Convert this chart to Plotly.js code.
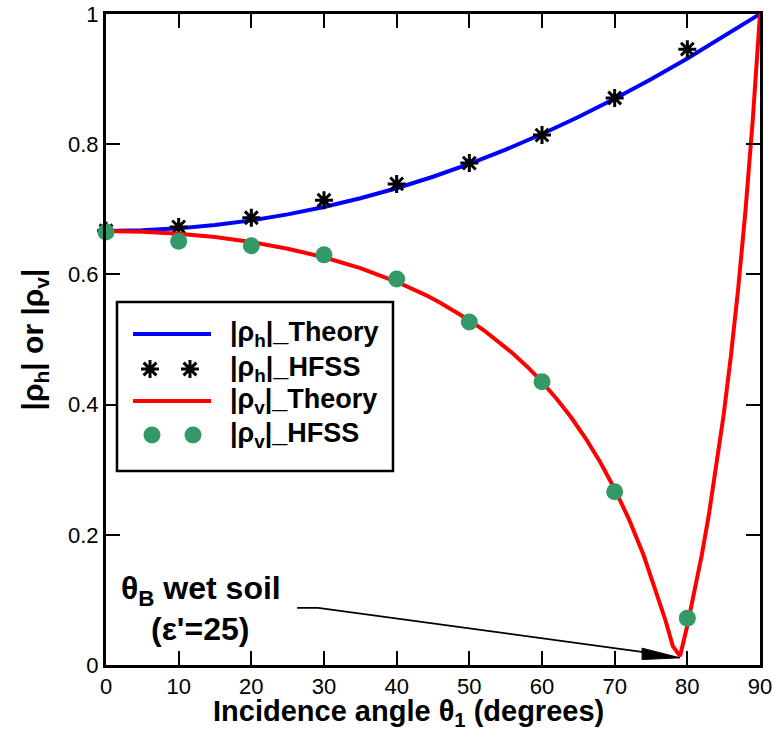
<!DOCTYPE html>
<html>
<head>
<meta charset="utf-8">
<script src="https://cdn.plot.ly/plotly-3.0.1.min.js"></script>
<style>html,body{margin:0;padding:0;background:#fff;}#chart{width:773px;height:747px;}</style>
</head>
<body>
<div id="chart"></div>
<script>
// Theory curves
const thetaH = [0,5,10,15,20,25,30,35,40,45,50,55,60,65,70,75,80,85,90];
const rhoHTheory = [0.6667,0.6677,0.6707,0.6758,0.6830,0.6922,0.7035,0.7169,0.7324,0.7500,0.7698,0.7917,0.8157,0.8417,0.8698,0.8998,0.9316,0.9650,1.0];
const thetaV = [0,5,10,15,20,25,30,35,40,42,44,46,48,50,52,54,56,58,60,62,64,66,68,70,72,74,76,77,78,79,80,81,82,83,84,85,86,87,88,89,90];
const rhoVTheory = [0.6667,0.6657,0.6626,0.6573,0.6497,0.6395,0.6263,0.6096,0.5887,0.5789,0.5682,0.5565,0.5437,0.5297,0.5142,0.4973,0.4785,0.4578,0.4348,0.4091,0.3805,0.3482,0.3118,0.2704,0.2230,0.1682,0.1044,0.0684,0.0291,0.0137,0.0607,0.1124,0.1697,0.2333,0.3044,0.3844,0.4750,0.5785,0.6977,0.8365,1.0];
// HFSS simulation points
const thetaHFSS = [0,10,20,30,40,50,60,70,80];
const rhoHHFSS = [0.667,0.673,0.687,0.714,0.739,0.771,0.814,0.871,0.946];
const rhoVHFSS = [0.665,0.651,0.644,0.630,0.593,0.527,0.435,0.266,0.072];
// Axis ticks
const xTicks = [0,10,20,30,40,50,60,70,80,90];
const yTicks = [0,0.2,0.4,0.6,0.8,1];
const legendLabels = ["|ρ<sub>h</sub>|_Theory","|ρ<sub>h</sub>|_HFSS","|ρ<sub>v</sub>|_Theory","|ρ<sub>v</sub>|_HFSS"];

const BLUE = '#0000ff', RED = '#ff0000', GREEN = '#339966';
const FONT = 'Arial, "Liberation Sans", sans-serif';

const traces = [
  {x: thetaH, y: rhoHTheory, mode: 'lines', line: {color: BLUE, width: 4}, name: legendLabels[0], cliponaxis: false},
  {x: thetaHFSS, y: rhoHHFSS, mode: 'markers', marker: {symbol: 'asterisk-open', size: 15, color: '#000', line: {color: '#000', width: 3}}, name: legendLabels[1], cliponaxis: false},
  {x: thetaV, y: rhoVTheory, mode: 'lines', line: {color: RED, width: 4}, name: legendLabels[2], cliponaxis: false},
  {x: thetaHFSS, y: rhoVHFSS, mode: 'markers', marker: {symbol: 'circle', size: 17, color: GREEN}, name: legendLabels[3], cliponaxis: false}
];

// custom legend (box, samples, labels) in paper coordinates
const rowsY = [0.5084, 0.4547, 0.4055, 0.3533];
const shapes = [
  {type: 'rect', xref: 'paper', yref: 'paper', x0: 0.0168, x1: 0.4388, y0: 0.2980, y1: 0.5576, line: {color: '#000', width: 2.5}, fillcolor: 'rgba(255,255,255,1)', layer: 'above'},
  {type: 'line', xref: 'paper', yref: 'paper', x0: 0.0413, x1: 0.1606, y0: rowsY[0], y1: rowsY[0], line: {color: BLUE, width: 4}},
  {type: 'line', xref: 'paper', yref: 'paper', x0: 0.0413, x1: 0.1606, y0: rowsY[2], y1: rowsY[2], line: {color: RED, width: 4}}
];
const starPath = 'M-9,0H9M0,-9V9M-6.4,-6.4L6.4,6.4M-6.4,6.4L6.4,-6.4';
[0.0673, 0.1284].forEach(px => shapes.push({type: 'path', xref: 'paper', yref: 'paper', xsizemode: 'pixel', ysizemode: 'pixel', xanchor: px, yanchor: rowsY[1], path: starPath, line: {color: '#000', width: 3}}));
[0.0703, 0.1330].forEach(px => shapes.push({type: 'circle', xref: 'paper', yref: 'paper', xsizemode: 'pixel', ysizemode: 'pixel', xanchor: px, yanchor: rowsY[3], x0: -8.5, x1: 8.5, y0: -8.5, y1: 8.5, fillcolor: GREEN, line: {width: 0}}));

// Brewster-angle pointer
shapes.push({type: 'path', xref: 'x', yref: 'y', path: 'M26.3,0.0876 L29.2,0.0876 L77.0,0.0153', line: {color: '#000', width: 1.8}});
shapes.push({type: 'path', xref: 'x', yref: 'y', xsizemode: 'pixel', ysizemode: 'pixel', xanchor: 79, yanchor: 0.011, path: 'M0,0 L-38,9.7 L-38,-1.7 Z', fillcolor: '#000', line: {color: '#000', width: 1}});

const annotations = legendLabels.map((t, i) => ({
  text: t, xref: 'paper', yref: 'paper', x: 0.1865, y: rowsY[i], xanchor: 'left', yanchor: 'middle', showarrow: false,
  font: {family: FONT, size: 27, color: '#000', weight: 'bold'}
}));
annotations.push({text: 'θ<sub>B</sub> wet soil', xref: 'paper', yref: 'paper', x: 0.1453, y: 0.1152, xanchor: 'center', yanchor: 'middle', showarrow: false, font: {family: FONT, size: 32, color: '#000', weight: 'bold'}});
annotations.push({text: "(ε'=25)", xref: 'paper', yref: 'paper', x: 0.1437, y: 0.0553, xanchor: 'center', yanchor: 'middle', showarrow: false, font: {family: FONT, size: 32, color: '#000', weight: 'bold'}});
annotations.push({text: 'Incidence angle θ<sub>1</sub> (degrees)', xref: 'paper', yref: 'paper', x: 0.463, y: -0.074, xanchor: 'center', yanchor: 'middle', showarrow: false, font: {family: FONT, size: 29, color: '#000', weight: 'bold'}});

const axisCommon = {
  showgrid: false, zeroline: false, showline: true, linecolor: '#000', linewidth: 3, mirror: 'ticks',
  ticks: 'inside', ticklen: 14, tickwidth: 2, tickcolor: '#000',
  tickfont: {family: FONT, size: 22, color: '#000'}
};

const layout = {
  width: 773, height: 747,
  margin: {l: 106, r: 13, t: 14, b: 82},
  paper_bgcolor: '#fff', plot_bgcolor: '#fff',
  showlegend: false,
  xaxis: Object.assign({}, axisCommon, {range: [0, 90], tickvals: xTicks, ticktext: xTicks.map(String)}),
  yaxis: Object.assign({}, axisCommon, {range: [0, 1], tickvals: yTicks, ticktext: yTicks.map(String),
    title: {text: '|ρ<sub>h</sub>| or |ρ<sub>v</sub>|', font: {family: FONT, size: 30, color: '#000', weight: 'bold'}, standoff: 16}}),
  shapes: shapes,
  annotations: annotations
};

Plotly.newPlot('chart', traces, layout, {staticPlot: true, displayModeBar: false});
</script>
</body>
</html>
